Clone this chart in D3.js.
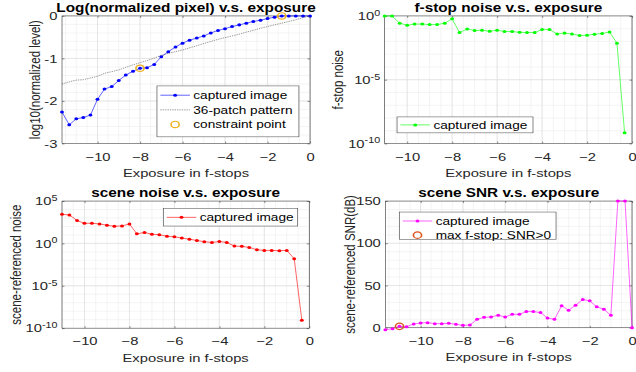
<!DOCTYPE html>
<html>
<head>
<meta charset="utf-8">
<script src="https://cdn.jsdelivr.net/npm/d3@7"></script>
<style>
  html, body { margin: 0; padding: 0; background: #fff; }
  svg { display: block; }
  text { font-family: "Liberation Sans", Arial, Helvetica, sans-serif; }
</style>
</head>
<body>
<svg id="fig"></svg>
<script>
// exposure of each patch, in f-stops (1/3 stop apart)
const exposure = [-11.67, -11.33, -11, -10.67, -10.33, -10, -9.67, -9.33, -9, -8.67, -8.33, -8,
  -7.67, -7.33, -7, -6.67, -6.33, -6, -5.67, -5.33, -5, -4.67, -4.33, -4,
  -3.67, -3.33, -3, -2.67, -2.33, -2, -1.67, -1.33, -1, -0.67, -0.33, 0];
// noise curves only exist from -11 to -1/3 stop
const exposureNoise = exposure.slice(2, 35);

// log10 of normalized pixel level
const logLevel = [-2.26, -2.56, -2.42, -2.39, -2.33, -1.96, -1.72, -1.66, -1.52, -1.39, -1.30, -1.23,
  -1.22, -1.14, -0.96, -0.84, -0.73, -0.64, -0.57, -0.52, -0.47, -0.40, -0.34, -0.30,
  -0.25, -0.21, -0.17, -0.13, -0.10, -0.06, -0.03, 0, 0, 0, 0, 0];
const patchLevel = [-1.60, -1.55, -1.51, -1.50, -1.46, -1.42, -1.35, -1.31, -1.27, -1.21, -1.15, -1.10,
  -1.05, -0.99, -0.93, -0.88, -0.84, -0.80, -0.75, -0.70, -0.65, -0.60, -0.55, -0.51,
  -0.47, -0.43, -0.38, -0.34, -0.29, -0.25, -0.21, -0.17, -0.13, -0.09, -0.04, 0];
const constraintStops = [-8, -1.33];
const constraintLevel = [-1.23, 0];

const fstopNoise = [1.0, 1.0, 0.27, 0.19, 0.23, 0.23, 0.21, 0.21, 0.27, 0.59, 0.050,
  0.095, 0.071, 0.076, 0.063, 0.076, 0.060, 0.060, 0.052, 0.050, 0.050, 0.085,
  0.085, 0.039, 0.045, 0.039, 0.029, 0.031, 0.037, 0.042, 0.056, 0.0072, 6.8e-10];

const sceneNoise = [2750, 2290, 500, 240, 240, 200, 141, 107, 117, 200, 13.5,
  19.5, 12.3, 10.5, 7.2, 6.0, 4.3, 3.2, 2.2, 1.6, 1.3, 1.7,
  1.3, 0.49, 0.45, 0.34, 0.18, 0.15, 0.15, 0.14, 0.15, 0.016, 8.7e-10];

const sceneSNR = [-2.4, -1.2, 1.6, 1.2, 4.4, 5.6, 6.0, 4.8, 4.8, 5.2, 4.0, 2.8,
  3.2, 9.9, 12.3, 12.7, 14.7, 12.7, 15.9, 15.9, 19.1, 19.1, 17.9, 11.5,
  9.9, 25.9, 20.7, 26.7, 33.4, 31.8, 24.7, 21.9, 14.7, 150, 150, 0];
const maxStop = [-11];
const maxStopSNR = [1.6];

const xTicks = [-10, -8, -6, -4, -2, 0];
const levelTicks = [-3, -2, -1, 0];
const fstopTicks = [1e-10, 1e-5, 1];
const sceneTicks = [1e-10, 1e-5, 1, 1e5];
const snrTicks = [0, 50, 100, 150];

// the figure is laid out at 560x420 and stretched to the window, like the reference
const W = 636, H = 372, VW = 560, VH = 420;
const INK = '#262626';
const svg = d3.select('#fig')
  .attr('width', W).attr('height', H)
  .attr('viewBox', `0 0 ${VW} ${VH}`)
  .attr('preserveAspectRatio', 'none');

function panel(o) {
  const x = d3.scaleLinear().domain(o.xlim).range([o.left, o.right]);
  const y = (o.log ? d3.scaleLog() : d3.scaleLinear()).domain(o.ylim).range([o.bottom, o.top]);
  const g = svg.append('g');

  // grid: minor first, then major
  const xMinor = d3.range(Math.ceil(o.xlim[0] * 2) / 2, o.xlim[1] + 1e-9, 0.5);
  const yMinor = o.log
    ? d3.range(Math.log10(o.ylim[0]), Math.log10(o.ylim[1]) + 0.5, 1).map(e => Math.pow(10, e))
    : d3.range(o.ylim[0], o.ylim[1] + 1e-9, o.yMinorStep);
  g.append('g').selectAll('line.vx').data(xMinor).join('line')
    .attr('x1', d => x(d)).attr('x2', d => x(d)).attr('y1', o.top).attr('y2', o.bottom)
    .attr('stroke', '#ececec').attr('stroke-width', 0.6);
  g.append('g').selectAll('line.hy').data(yMinor).join('line')
    .attr('y1', d => y(d)).attr('y2', d => y(d)).attr('x1', o.left).attr('x2', o.right)
    .attr('stroke', '#ececec').attr('stroke-width', 0.6);
  g.append('g').selectAll('line').data(xTicks).join('line')
    .attr('x1', d => x(d)).attr('x2', d => x(d)).attr('y1', o.top).attr('y2', o.bottom)
    .attr('stroke', '#dcdcdc').attr('stroke-width', 0.6);
  g.append('g').selectAll('line').data(o.yTicks).join('line')
    .attr('y1', d => y(d)).attr('y2', d => y(d)).attr('x1', o.left).attr('x2', o.right)
    .attr('stroke', '#dcdcdc').attr('stroke-width', 0.6);

  // axes with inward ticks
  const tl = 2.2;
  const styleAxis = sel => {
    sel.attr('font-size', 13).attr('font-family', null).attr('color', INK);
    sel.select('.domain').remove();
    sel.selectAll('.tick line').attr('stroke-width', 0.5);
  };
  g.append('g').attr('transform', `translate(0,${o.bottom})`)
    .call(d3.axisBottom(x).tickValues(xTicks).tickSizeInner(-tl).tickSizeOuter(0).tickPadding(10)
      .tickFormat(d => d === 0 ? '0' : d3.format('d')(d).replace('-', '-')))
    .call(styleAxis);
  g.append('g').attr('transform', `translate(0,${o.top})`)
    .call(d3.axisTop(x).tickValues(xTicks).tickSizeInner(-tl).tickSizeOuter(0).tickFormat(''))
    .call(styleAxis);
  const yAxis = g.append('g').attr('transform', `translate(${o.left},0)`)
    .call(d3.axisLeft(y).tickValues(o.yTicks).tickSizeInner(-tl).tickSizeOuter(0).tickPadding(4)
      .tickFormat(d => o.log ? '' : String(d)))
    .call(styleAxis);
  g.append('g').attr('transform', `translate(${o.right},0)`)
    .call(d3.axisLeft(y).tickValues(o.yTicks).tickSizeInner(tl).tickSizeOuter(0).tickFormat(''))
    .call(styleAxis);
  if (o.log) {
    yAxis.selectAll('.tick text').each(function (d) {
      const t = d3.select(this).text('');
      t.append('tspan').text('10');
      t.append('tspan').attr('dy', '-0.5em').attr('font-size', 9.5)
        .text(Math.round(Math.log10(d)));
    });
  }

  // box
  g.append('rect').attr('x', o.left).attr('y', o.top)
    .attr('width', o.right - o.left).attr('height', o.bottom - o.top)
    .attr('fill', 'none').attr('stroke', INK).attr('stroke-width', 0.5);

  // series
  o.series.forEach(s => {
    const pts = s.x.map((v, i) => [v, s.y[i]]);
    if (s.dash !== undefined || s.dots) {
      g.append('path').datum(pts)
        .attr('d', d3.line().x(d => x(d[0])).y(d => y(d[1])))
        .attr('fill', 'none').attr('stroke', s.color).attr('stroke-width', s.width || 0.6)
        .attr('stroke-dasharray', s.dash || null);
    }
    if (s.dots) {
      g.append('g').selectAll('circle').data(pts).join('circle')
        .attr('cx', d => x(d[0])).attr('cy', d => y(d[1])).attr('r', 1.7).attr('fill', s.color);
    }
    if (s.ring) {
      g.append('g').selectAll('circle').data(pts).join('circle')
        .attr('cx', d => x(d[0])).attr('cy', d => y(d[1])).attr('r', 3.6)
        .attr('fill', 'none').attr('stroke', s.ring).attr('stroke-width', 1.4);
    }
  });

  // titles and labels
  const cx = (o.left + o.right) / 2, cy = (o.top + o.bottom) / 2;
  g.append('text').attr('x', cx).attr('y', o.top - 5).attr('text-anchor', 'middle')
    .attr('font-size', 13.5).attr('font-weight', 'bold').attr('fill', '#000').text(o.title);
  g.append('text').attr('x', cx).attr('y', o.bottom + 38).attr('text-anchor', 'middle')
    .attr('font-size', 13).attr('fill', INK).text('Exposure in f-stops');
  g.append('text').attr('transform', `translate(${o.ylabelX},${cy}) rotate(-90)`)
    .attr('dy', '0.35em').attr('text-anchor', 'middle')
    .attr('font-size', 13).attr('fill', INK).text(o.ylabel);

  // legend
  const L = o.legend;
  const lg = g.append('g');
  lg.append('rect').attr('x', L.x).attr('y', L.y).attr('width', L.w).attr('height', L.h)
    .attr('fill', '#fff').attr('stroke', '#4d4d4d').attr('stroke-width', 0.6);
  L.items.forEach((it, i) => {
    const ry = L.rows[i];
    const s = o.series[it];
    const x0 = L.x + 3, x1 = L.x + 29, xm = (x0 + x1) / 2;
    if (s.dash !== undefined || s.dots) {
      lg.append('line').attr('x1', x0).attr('x2', x1).attr('y1', ry).attr('y2', ry)
        .attr('stroke', s.color).attr('stroke-width', s.width || 0.6)
        .attr('stroke-dasharray', s.dash || null);
    }
    if (s.dots) lg.append('circle').attr('cx', xm).attr('cy', ry).attr('r', 1.7).attr('fill', s.color);
    if (s.ring) lg.append('circle').attr('cx', xm).attr('cy', ry).attr('r', 3.6)
      .attr('fill', 'none').attr('stroke', s.ring).attr('stroke-width', 1.4);
    lg.append('text').attr('x', L.x + 32).attr('y', ry).attr('dy', '0.35em')
      .attr('font-size', 12).attr('fill', '#000').text(s.label);
  });
}

panel({
  left: 54.6, right: 273, top: 18, bottom: 162,
  xlim: [-11.67, 0], ylim: [-3, 0], yTicks: levelTicks, yMinorStep: 0.2,
  title: 'Log(normalized pixel) v.s. exposure', ylabel: 'log10(normalized level)', ylabelX: 31,
  series: [
    { x: exposure, y: logLevel, color: '#0000ff', dots: true, label: 'captured image' },
    { x: exposure, y: patchLevel, color: '#333333', dash: '1.2,0.9', width: 0.5, label: '36-patch pattern' },
    { x: constraintStops, y: constraintLevel, ring: '#edb120', label: 'constraint point' }
  ],
  legend: { x: 138.2, y: 97, w: 125, h: 57.5, rows: [107.5, 124, 140.5], items: [0, 1, 2] }
});

panel({
  left: 338.7, right: 556.5, top: 18, bottom: 162,
  xlim: [-11, 0], ylim: [1e-10, 1], log: true, yTicks: fstopTicks,
  title: 'f-stop noise v.s. exposure', ylabel: 'f-stop noise', ylabelX: 297.5,
  series: [
    { x: exposureNoise, y: fstopNoise, color: '#00ff00', dots: true, label: 'captured image' }
  ],
  legend: { x: 349.6, y: 132, w: 119.7, h: 18, rows: [141], items: [0] }
});

panel({
  left: 54.6, right: 272.3, top: 227, bottom: 370.5,
  xlim: [-11, 0], ylim: [1e-10, 1e5], log: true, yTicks: sceneTicks,
  title: 'scene noise v.s. exposure', ylabel: 'scene-referenced noise', ylabelX: 13.5,
  series: [
    { x: exposureNoise, y: sceneNoise, color: '#ff0000', dots: true, label: 'captured image' }
  ],
  legend: { x: 143.8, y: 235.6, w: 118.3, h: 19.6, rows: [245.4], items: [0] }
});

panel({
  left: 339.3, right: 556.5, top: 227, bottom: 370,
  xlim: [-11.67, 0], ylim: [0, 150], yTicks: snrTicks, yMinorStep: 10,
  title: 'scene SNR v.s. exposure', ylabel: 'scene-referenced SNR(dB)', ylabelX: 307.6,
  series: [
    { x: exposure, y: sceneSNR, color: '#ff00ff', dots: true, label: 'captured image' },
    { x: maxStop, y: maxStopSNR, ring: '#d95319', label: 'max f-stop: SNR>0' }
  ],
  legend: { x: 351.6, y: 239.4, w: 138, h: 30.8, rows: [249.5, 265.5], items: [0, 1] }
});
</script>
</body>
</html>
